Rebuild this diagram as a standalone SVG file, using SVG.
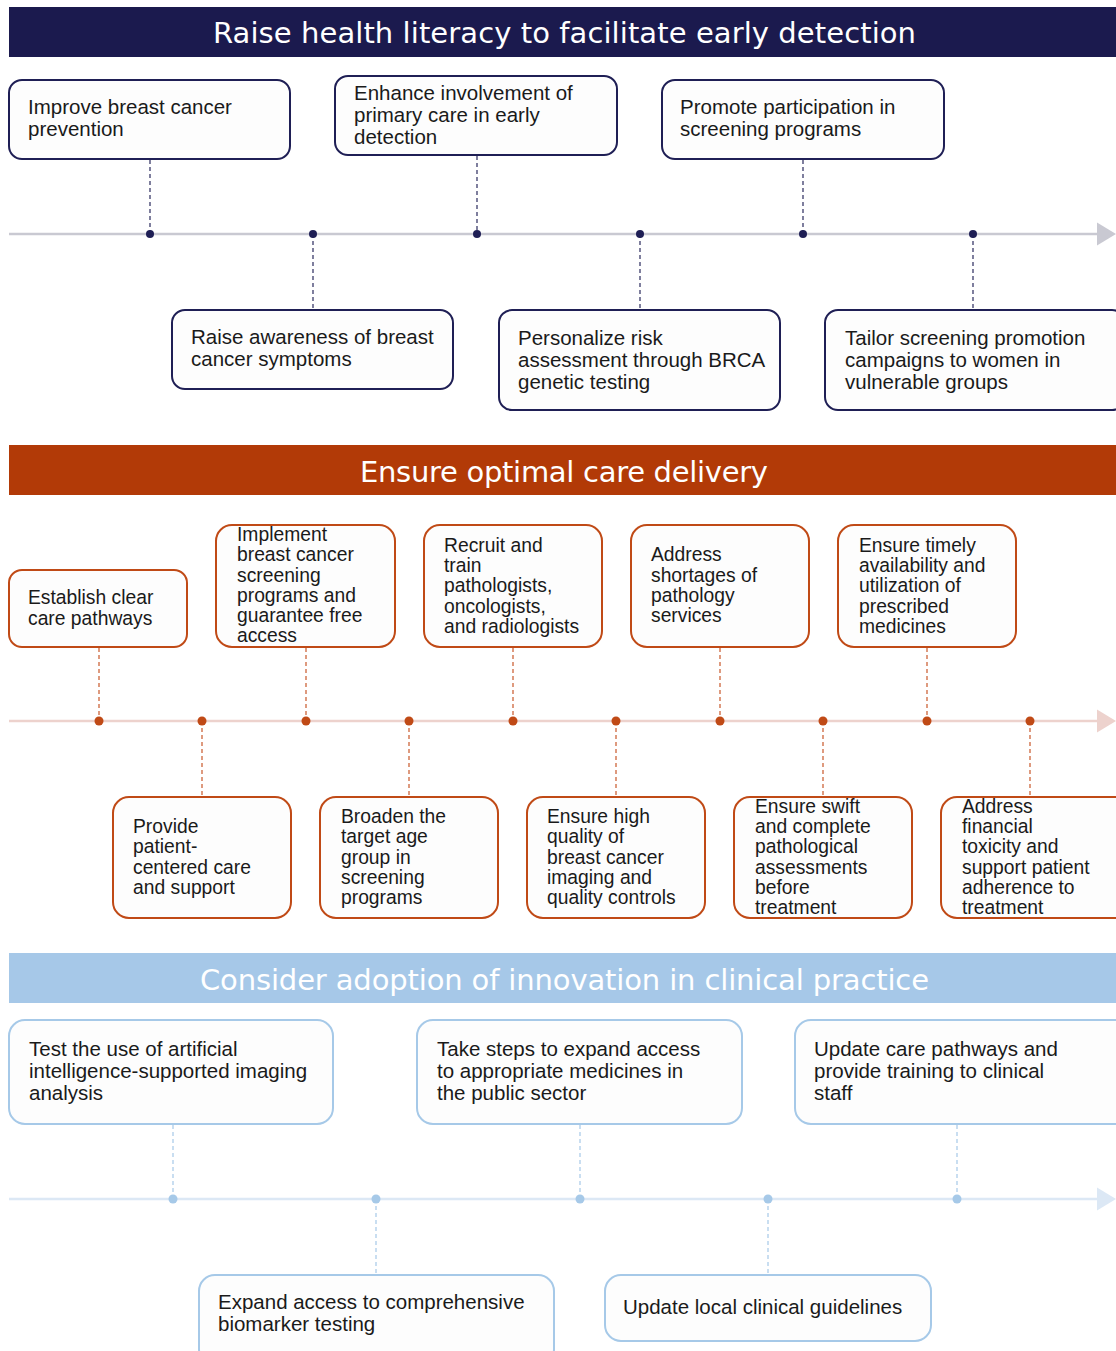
<svg xmlns="http://www.w3.org/2000/svg" width="1116" height="1351" viewBox="0 0 1116 1351">
<style>
text{font-family:"Liberation Sans",Arial,sans-serif;fill:#1a1a1a}
.t1,.t3{font-size:20.5px}
.t2{font-size:19.3px}
.title{font-family:"DejaVu Sans","Liberation Sans",sans-serif;font-size:29px;fill:#ffffff;text-anchor:middle}
.b1{fill:#fdfdfd;stroke:#1f1f55;stroke-width:2}
.b2{fill:#fdfdfd;stroke:#c04a16;stroke-width:2}
.b3{fill:#fdfdfd;stroke:#a6c9e8;stroke-width:2}
.d1{stroke:#2a2a5e;stroke-width:1.2;stroke-dasharray:4 3;fill:none}
.d2{stroke:#c8582a;stroke-width:1.2;stroke-dasharray:4 3;fill:none}
.d3{stroke:#a6c9e8;stroke-width:1.2;stroke-dasharray:4 3;fill:none}
.l1{stroke:#c9c9d2;stroke-width:2.5}
.l2{stroke:#edd2cd;stroke-width:2.5}
.l3{stroke:#dce8f5;stroke-width:2.5}
.p1{fill:#1f1f55}
.p2{fill:#c04a16}
.p3{fill:#a6c9e8}
</style>
<rect width="1116" height="1351" fill="#ffffff"/>
<g id="header1"><rect x="9" y="7" width="1107" height="50" fill="#1b1a4e"/><text class="title" x="564.5" y="43" textLength="703" lengthAdjust="spacing">Raise health literacy to facilitate early detection</text></g>
<g id="header2"><rect x="9" y="445" width="1107" height="50" fill="#b23a07"/><text class="title" x="564" y="482" textLength="408" lengthAdjust="spacing">Ensure optimal care delivery</text></g>
<g id="header3"><rect x="9" y="953" width="1107" height="50" fill="#a6c8e8"/><text class="title" x="564.5" y="990" textLength="729" lengthAdjust="spacing">Consider adoption of innovation in clinical practice</text></g>

<g id="connectors">
<line class="l1" x1="9" y1="234" x2="1100" y2="234"/><polygon points="1097,222.5 1116,234 1097,245.5" fill="#c9c9d2"/>
<line class="l2" x1="9" y1="721" x2="1100" y2="721"/><polygon points="1097,709.5 1116,721 1097,732.5" fill="#edd2cd"/>
<line class="l3" x1="9" y1="1199" x2="1100" y2="1199"/><polygon points="1097,1187.5 1116,1199 1097,1210.5" fill="#dce8f5"/>
<path class="d1" d="M150 160V234M477 156V234M803 160V234M313 234V310M640 234V310M973 234V310"/>
<path class="d2" d="M99 648V721M306 648V721M513 648V721M720 648V721M927 648V721M202 721V797M409 721V797M616 721V797M823 721V797M1030 721V797"/>
<path class="d3" d="M173 1125V1199M580 1125V1199M957 1125V1199M376 1199V1275M768 1199V1275"/>
<g class="p1"><circle cx="150" cy="234" r="4"/><circle cx="313" cy="234" r="4"/><circle cx="477" cy="234" r="4"/><circle cx="640" cy="234" r="4"/><circle cx="803" cy="234" r="4"/><circle cx="973" cy="234" r="4"/></g>
<g class="p2"><circle cx="99" cy="721" r="4.5"/><circle cx="202" cy="721" r="4.5"/><circle cx="306" cy="721" r="4.5"/><circle cx="409" cy="721" r="4.5"/><circle cx="513" cy="721" r="4.5"/><circle cx="616" cy="721" r="4.5"/><circle cx="720" cy="721" r="4.5"/><circle cx="823" cy="721" r="4.5"/><circle cx="927" cy="721" r="4.5"/><circle cx="1030" cy="721" r="4.5"/></g>
<g class="p3"><circle cx="173" cy="1199" r="4.5"/><circle cx="376" cy="1199" r="4.5"/><circle cx="580" cy="1199" r="4.5"/><circle cx="768" cy="1199" r="4.5"/><circle cx="957" cy="1199" r="4.5"/></g>
</g>

<g id="n1"><rect class="b1" x="9" y="80" width="281" height="79" rx="13"/><text class="t1" x="28"><tspan x="28" y="114">Improve breast cancer</tspan><tspan x="28" y="136">prevention</tspan></text></g>
<g id="n2"><rect class="b1" x="335" y="76" width="282" height="79" rx="13"/><text class="t1"><tspan x="354" y="100">Enhance involvement of</tspan><tspan x="354" y="122">primary care in early</tspan><tspan x="354" y="144">detection</tspan></text></g>
<g id="n3"><rect class="b1" x="662" y="80" width="282" height="79" rx="13"/><text class="t1"><tspan x="680" y="114">Promote participation in</tspan><tspan x="680" y="136">screening programs</tspan></text></g>
<g id="n4"><rect class="b1" x="172" y="310" width="281" height="79" rx="13"/><text class="t1"><tspan x="191" y="344">Raise awareness of breast</tspan><tspan x="191" y="366">cancer symptoms</tspan></text></g>
<g id="n5"><rect class="b1" x="499" y="310" width="281" height="100" rx="13"/><text class="t1"><tspan x="518" y="345">Personalize risk</tspan><tspan x="518" y="367">assessment through BRCA</tspan><tspan x="518" y="389">genetic testing</tspan></text></g>
<g id="n6"><rect class="b1" x="825" y="310" width="300" height="100" rx="13"/><text class="t1"><tspan x="845" y="345">Tailor screening promotion</tspan><tspan x="845" y="367">campaigns to women in</tspan><tspan x="845" y="389">vulnerable groups</tspan></text></g>

<g id="n7"><rect class="b2" x="9" y="570" width="178" height="77" rx="13"/><text class="t2"><tspan x="28" y="604">Establish clear</tspan><tspan x="28" y="625">care pathways</tspan></text></g>
<g id="n8"><rect class="b2" x="216" y="525" width="179" height="122" rx="16"/><text class="t2"><tspan x="237" y="541">Implement</tspan><tspan x="237" y="561">breast cancer</tspan><tspan x="237" y="582">screening</tspan><tspan x="237" y="602">programs and</tspan><tspan x="237" y="622">guarantee free</tspan><tspan x="237" y="642">access</tspan></text></g>
<g id="n9"><rect class="b2" x="424" y="525" width="178" height="122" rx="16"/><text class="t2"><tspan x="444" y="552">Recruit and</tspan><tspan x="444" y="572">train</tspan><tspan x="444" y="592">pathologists,</tspan><tspan x="444" y="613">oncologists,</tspan><tspan x="444" y="633">and radiologists</tspan></text></g>
<g id="n10"><rect class="b2" x="631" y="525" width="178" height="122" rx="16"/><text class="t2"><tspan x="651" y="561">Address</tspan><tspan x="651" y="582">shortages of</tspan><tspan x="651" y="602">pathology</tspan><tspan x="651" y="622">services</tspan></text></g>
<g id="n11"><rect class="b2" x="838" y="525" width="178" height="122" rx="16"/><text class="t2"><tspan x="859" y="552">Ensure timely</tspan><tspan x="859" y="572">availability and</tspan><tspan x="859" y="592">utilization of</tspan><tspan x="859" y="613">prescribed</tspan><tspan x="859" y="633">medicines</tspan></text></g>
<g id="n12"><rect class="b2" x="113" y="797" width="178" height="121" rx="16"/><text class="t2"><tspan x="133" y="833">Provide</tspan><tspan x="133" y="853">patient-</tspan><tspan x="133" y="874">centered care</tspan><tspan x="133" y="894">and support</tspan></text></g>
<g id="n13"><rect class="b2" x="320" y="797" width="178" height="121" rx="16"/><text class="t2"><tspan x="341" y="823">Broaden the</tspan><tspan x="341" y="843">target age</tspan><tspan x="341" y="864">group in</tspan><tspan x="341" y="884">screening</tspan><tspan x="341" y="904">programs</tspan></text></g>
<g id="n14"><rect class="b2" x="527" y="797" width="178" height="121" rx="16"/><text class="t2"><tspan x="547" y="823">Ensure high</tspan><tspan x="547" y="843">quality of</tspan><tspan x="547" y="864">breast cancer</tspan><tspan x="547" y="884">imaging and</tspan><tspan x="547" y="904">quality controls</tspan></text></g>
<g id="n15"><rect class="b2" x="734" y="797" width="178" height="121" rx="16"/><text class="t2"><tspan x="755" y="813">Ensure swift</tspan><tspan x="755" y="833">and complete</tspan><tspan x="755" y="853">pathological</tspan><tspan x="755" y="874">assessments</tspan><tspan x="755" y="894">before</tspan><tspan x="755" y="914">treatment</tspan></text></g>
<g id="n16"><rect class="b2" x="941" y="797" width="190" height="121" rx="16"/><text class="t2"><tspan x="962" y="813">Address</tspan><tspan x="962" y="833">financial</tspan><tspan x="962" y="853">toxicity and</tspan><tspan x="962" y="874">support patient</tspan><tspan x="962" y="894">adherence to</tspan><tspan x="962" y="914">treatment</tspan></text></g>

<g id="n17"><rect class="b3" x="9" y="1020" width="324" height="104" rx="16"/><text class="t3"><tspan x="29" y="1056">Test the use of artificial</tspan><tspan x="29" y="1078">intelligence-supported imaging</tspan><tspan x="29" y="1100">analysis</tspan></text></g>
<g id="n18"><rect class="b3" x="417" y="1020" width="325" height="104" rx="16"/><text class="t3"><tspan x="437" y="1056">Take steps to expand access</tspan><tspan x="437" y="1078">to appropriate medicines in</tspan><tspan x="437" y="1100">the public sector</tspan></text></g>
<g id="n19"><rect class="b3" x="795" y="1020" width="335" height="104" rx="16"/><text class="t3"><tspan x="814" y="1056">Update care pathways and</tspan><tspan x="814" y="1078">provide training to clinical</tspan><tspan x="814" y="1100">staff</tspan></text></g>
<g id="n20"><rect class="b3" x="199" y="1275" width="355" height="90" rx="16"/><text class="t3"><tspan x="218" y="1309">Expand access to comprehensive</tspan><tspan x="218" y="1331">biomarker testing</tspan></text></g>
<g id="n21"><rect class="b3" x="605" y="1275" width="326" height="66" rx="16"/><text class="t3" x="623" y="1314">Update local clinical guidelines</text></g>
</svg>
